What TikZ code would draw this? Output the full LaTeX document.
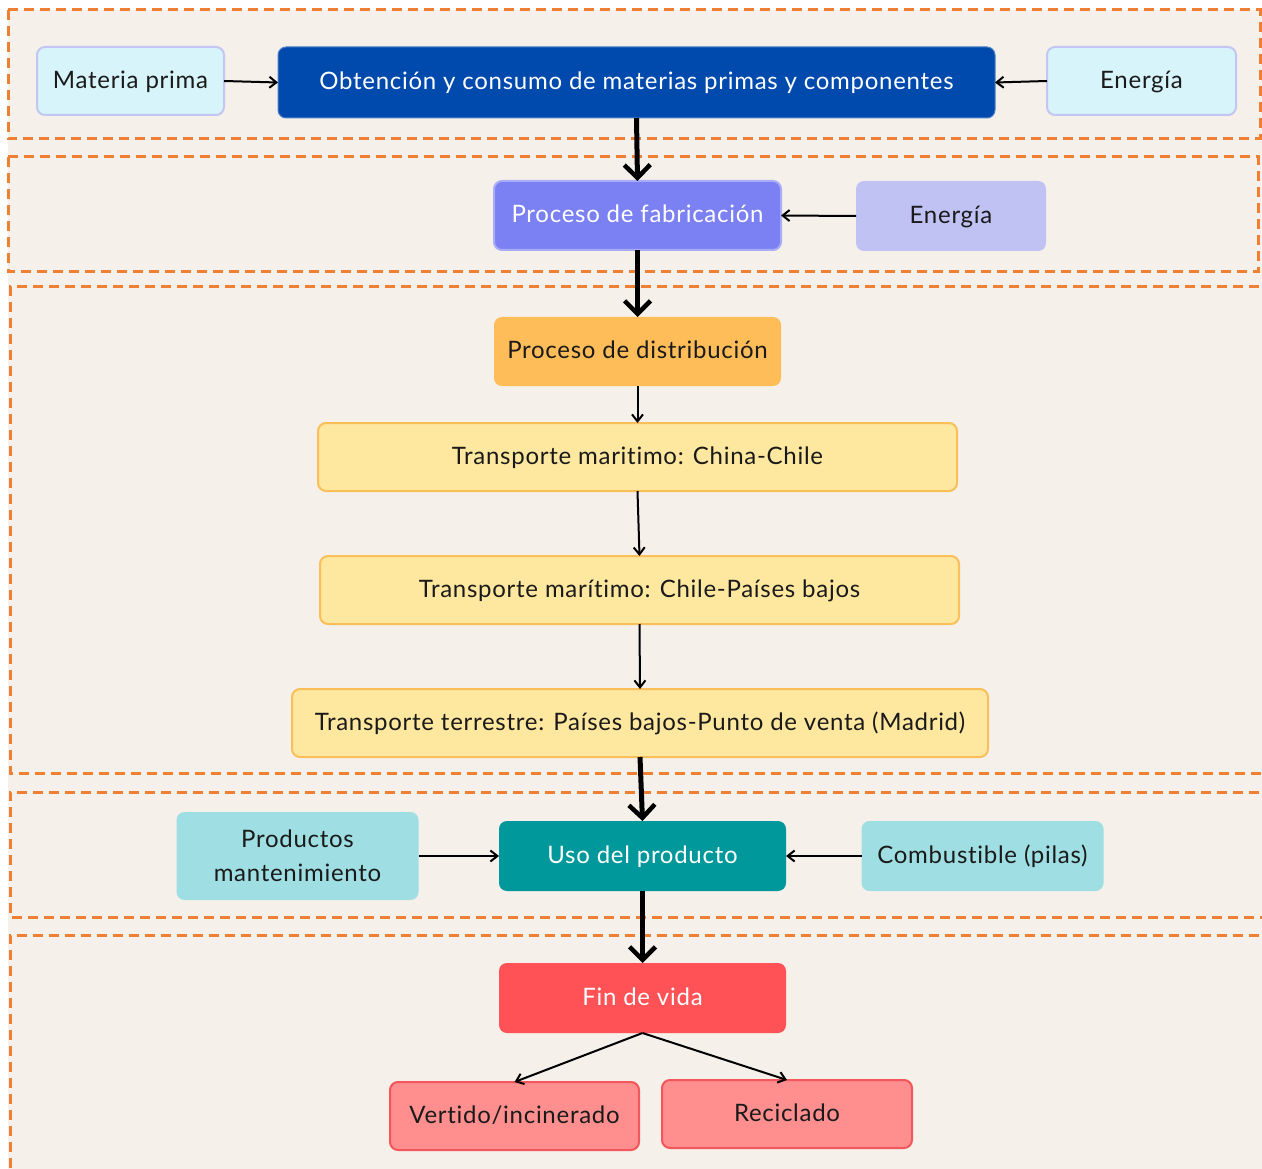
\documentclass[tikz,border=0pt]{standalone}
\usepackage{fontspec}
\setmainfont{Lato}[LetterSpace=3, RawFeature={-liga;-clig;-dlig;-calt}]
\usetikzlibrary{arrows.meta}
\definecolor{pagebg}{HTML}{F5F0EA}
\definecolor{stage}{HTML}{EE7F33}
\definecolor{inputfill}{HTML}{D7F4FA}
\definecolor{inputline}{HTML}{C3C6F2}
\definecolor{navy}{HTML}{004AAD}
\definecolor{violet}{HTML}{7B80F2}
\definecolor{violetline}{HTML}{A9ACF6}
\definecolor{lavender}{HTML}{C0C2F4}
\definecolor{amber}{HTML}{FFBD59}
\definecolor{cream}{HTML}{FEE79F}
\definecolor{creamline}{HTML}{FBBF5A}
\definecolor{aqua}{HTML}{9FDEE2}
\definecolor{teal}{HTML}{00989B}
\definecolor{coral}{HTML}{FF5256}
\definecolor{salmon}{HTML}{FF8F8F}
\definecolor{salmonline}{HTML}{F3565B}
\definecolor{ink}{HTML}{1A1A1A}
\begin{document}
\begin{tikzpicture}[x=1pt,y=-1pt,
  box/.style={rounded corners=8pt, inner sep=2pt, outer sep=0pt, align=center,
    font=\fontsize{24}{34}\selectfont, text=ink},
  oneline/.style={box, text height=20pt, text depth=5pt},
  stagebox/.style={draw=stage, line width=3pt, dash pattern=on 10pt off 6pt},
  thin/.style={-{Straight Barb[length=7pt,width=11pt]}, line width=2pt, black},
  thick/.style={-{Straight Barb[length=13pt,width=26pt,line width=4.5pt]}, line width=5pt, black}]
\useasboundingbox (0,0) rectangle (1262,1169);
\clip (0,0) rectangle (1262,1169);
% page
\fill[white] (0,0) rectangle (1262,1169);
\fill[pagebg] (8,10) rectangle (1262,1169);
% life-cycle stages
\draw[stagebox] (8,10) rectangle (1260,139);
\draw[stagebox] (8,157) rectangle (1258,272);
\draw[stagebox] (1275,287) -- (10,287) -- (10,773) -- (1275,773);
\draw[stagebox] (1275,792) -- (10,792) -- (10,917) -- (1275,917);
\draw[stagebox] (1275,935) -- (10,935) -- (10,1185);
% raw materials
\node[oneline, fill=inputfill, draw=inputline, line width=2pt, minimum width=187pt, minimum height=68pt] (mp) at (130.5,81) {Materia prima};
\node[oneline, fill=navy, draw=navy!70!white, line width=1pt, text=white, minimum width=717pt, minimum height=71pt] (ob) at (636.5,82.5) {Obtención y consumo de materias primas y componentes};
\node[oneline, fill=inputfill, draw=inputline, line width=2pt, minimum width=189pt, minimum height=68pt] (en1) at (1141.5,81) {Energía};
% manufacturing
\node[oneline, fill=violet, draw=violetline, line width=2pt, text=white, minimum width=287pt, minimum height=69pt] (fab) at (637.5,215.5) {Proceso de fabricación};
\node[oneline, fill=lavender, minimum width=190pt, minimum height=70pt] (en2) at (951,216) {Energía};
% distribution
\node[oneline, fill=amber, minimum width=287pt, minimum height=69pt] (dis) at (637.5,351.5) {Proceso de distribución};
\node[oneline, fill=cream, draw=creamline, line width=2pt, minimum width=639pt, minimum height=68pt] (t1) at (637.5,457) {Transporte maritimo: China-Chile};
\node[oneline, fill=cream, draw=creamline, line width=2pt, minimum width=639pt, minimum height=68pt] (t2) at (639.5,590) {Transporte marítimo: Chile-Países bajos};
\node[oneline, fill=cream, draw=creamline, line width=2pt, minimum width=696pt, minimum height=68pt] (t3) at (640,723) {Transporte terrestre: Países bajos-Punto de venta (Madrid)};
% use
\node[box, fill=aqua, minimum width=242pt, minimum height=88pt] (pm) at (297.5,856) {Productos\\mantenimiento};
\node[oneline, fill=teal, text=white, minimum width=287pt, minimum height=70pt] (uso) at (642.5,856) {Uso del producto};
\node[oneline, fill=aqua, minimum width=242pt, minimum height=70pt] (cb) at (982.5,856) {Combustible (pilas)};
% end of life
\node[oneline, fill=coral, text=white, minimum width=287pt, minimum height=70pt] (fin) at (642.5,998) {Fin de vida};
\node[oneline, fill=salmon, draw=salmonline, line width=2pt, minimum width=249pt, minimum height=68pt] (ver) at (514.5,1116) {Vertido/incinerado};
\node[oneline, fill=salmon, draw=salmonline, line width=2pt, minimum width=250pt, minimum height=68pt] (rec) at (787,1114) {Reciclado};
% flows
\draw[thin] (mp.east) -- (ob.west);
\draw[thin] (en1.west) -- (ob.east);
\draw[thick] (ob.south) -- (fab.north);
\draw[thin] (en2.west) -- (fab.east);
\draw[thick] (fab.south) -- (dis.north);
\draw[thin] (dis.south) -- (t1.north);
\draw[thin] (t1.south) -- (t2.north);
\draw[thin] (t2.south) -- (t3.north);
\draw[thick] (t3.south) -- (uso.north);
\draw[thin] (pm.east) -- (uso.west);
\draw[thin] (cb.west) -- (uso.east);
\draw[thick] (uso.south) -- (fin.north);
\draw[thin] (fin.south) -- (ver.north);
\draw[thin] (fin.south) -- (rec.north);
\end{tikzpicture}
\end{document}
